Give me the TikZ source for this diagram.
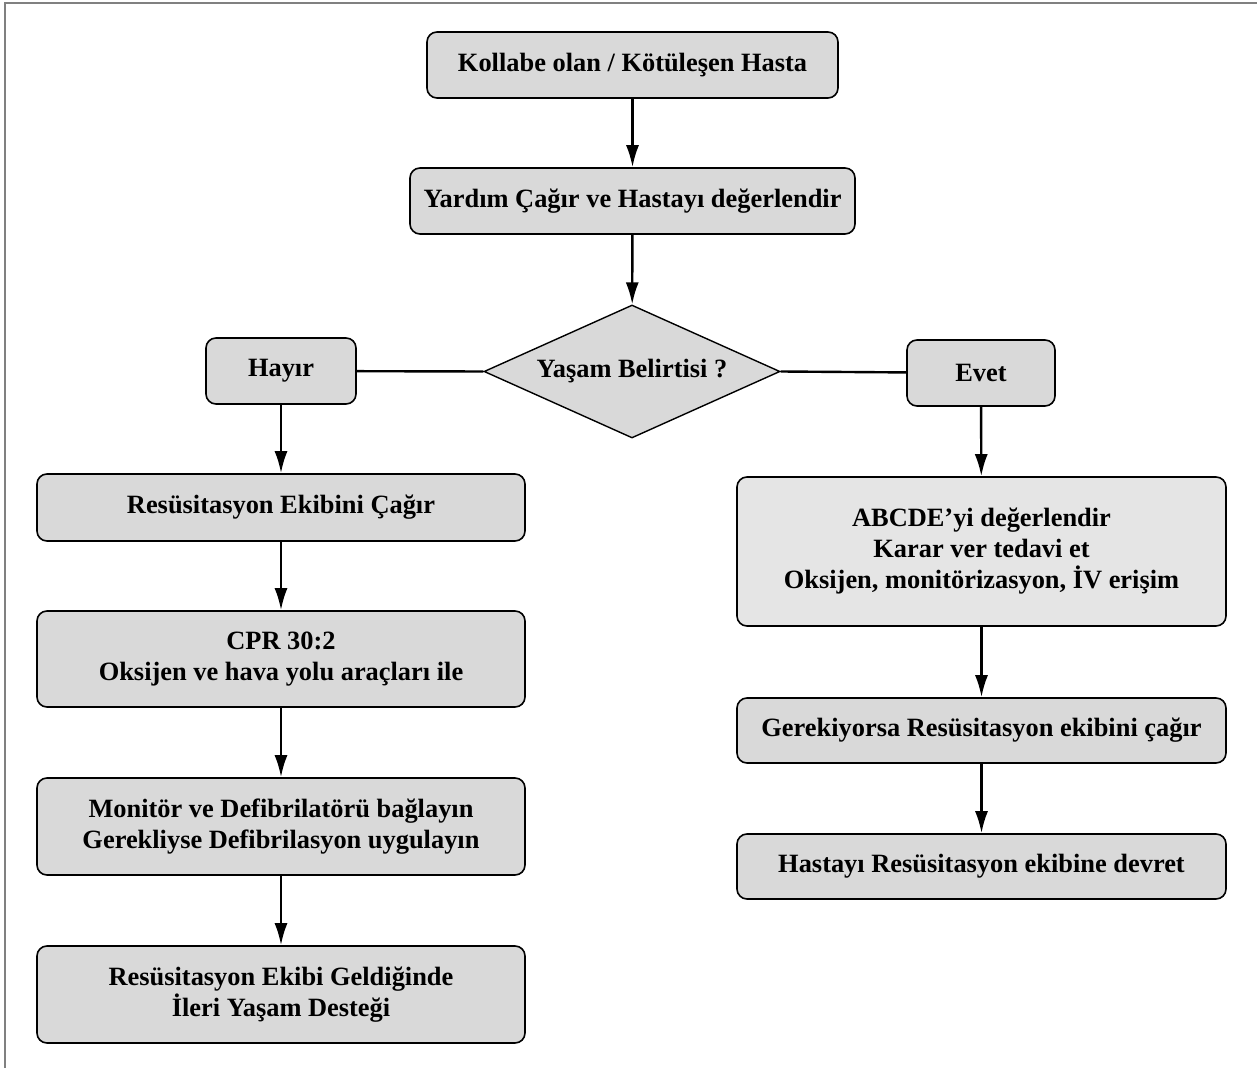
\documentclass[tikz,border=0pt]{standalone}
\usepackage{fontspec}
\setmainfont{Liberation Serif}
\usetikzlibrary{shapes.geometric,arrows.meta}
\definecolor{boxgray}{rgb}{0.85,0.85,0.85}
\definecolor{lightgray}{rgb}{0.9,0.9,0.9}
\definecolor{framegray}{rgb}{0.5,0.5,0.5}
\tikzset{
  stepbox/.style={draw=black,fill=boxgray,rounded corners=5pt,line width=0.8pt,
    align=center,inner sep=0pt,font=\bfseries\fontsize{13.2}{15.5}\selectfont},
  askbox/.style={draw=black,fill=boxgray,diamond,shape aspect=2.2,line width=0.7pt,inner sep=0pt,
    font=\bfseries\fontsize{13.2}{15.5}\selectfont},
  flow/.style={line width=1.2pt,-{Latex[length=11pt,width=6.5pt]}},
  joint/.style={line width=1.2pt}
}
\begin{document}
\begin{tikzpicture}[x=0.5pt,y=-0.5pt]
        \useasboundingbox (0,0) rectangle (1257,1068);
        \draw[framegray,line width=1pt] (5,1068) -- (5,3) -- (1257,3);
        %Top of the chart
        \node[stepbox,minimum width=205.5pt,minimum height=33pt] (hasta) at (632.5,65) {Kollabe olan / Kötüleşen Hasta};
        \node[stepbox,minimum width=222.5pt,minimum height=33pt] (yardim) at (632.5,201) {Yardım Çağır ve Hastayı değerlendir};
        \node[askbox,minimum width=148pt,minimum height=66.5pt] (yasam) at (632,371.5) {Yaşam Belirtisi ?};
        \draw[flow] (hasta) -- (yardim);
        \draw[flow] (yardim) -- (yasam);
        %Answers
        \node[stepbox,minimum width=75pt,minimum height=33pt] (hayir) at (281,371) {Hayır};
        \node[stepbox,minimum width=74pt,minimum height=33pt] (evet) at (981,373) {Evet};
        \draw[joint] (hayir) -- (yasam.west);
        \draw[joint] (yasam.east) -- (evet);
        %Left column
        \node[stepbox,minimum width=244pt,minimum height=33.5pt] (ekip) at (281,507.5) {Resüsitasyon Ekibini Çağır};
        \node[stepbox,minimum width=244pt,minimum height=48pt] (cpr) at (281,659) {CPR 30:2\\Oksijen ve hava yolu araçları ile};
        \node[stepbox,minimum width=244pt,minimum height=48.5pt] (monitor) at (281,826.5) {Monitör ve Defibrilatörü bağlayın\\Gerekliyse Defibrilasyon uygulayın};
        \node[stepbox,minimum width=244pt,minimum height=48.5pt] (ileri) at (281,994.5) {Resüsitasyon Ekibi Geldiğinde\\İleri Yaşam Desteği};
        \draw[flow] (hayir) -- (ekip);
        \draw[flow] (ekip) -- (cpr);
        \draw[flow] (cpr) -- (monitor);
        \draw[flow] (monitor) -- (ileri);
        %Right column
        \node[stepbox,fill=lightgray,minimum width=244.5pt,minimum height=74.5pt] (abcde) at (981.5,551.5) {ABCDE’yi değerlendir\\Karar ver tedavi et\\Oksijen, monitörizasyon, İV erişim};
        \node[stepbox,minimum width=244.5pt,minimum height=32.5pt] (gerek) at (981.5,730.5) {Gerekiyorsa Resüsitasyon ekibini çağır};
        \node[stepbox,minimum width=244.5pt,minimum height=32.5pt] (devret) at (981.5,866.5) {Hastayı Resüsitasyon ekibine devret};
        \draw[flow] (evet) -- (abcde);
        \draw[flow] (abcde) -- (gerek);
        \draw[flow] (gerek) -- (devret);
\end{tikzpicture}
\end{document}
